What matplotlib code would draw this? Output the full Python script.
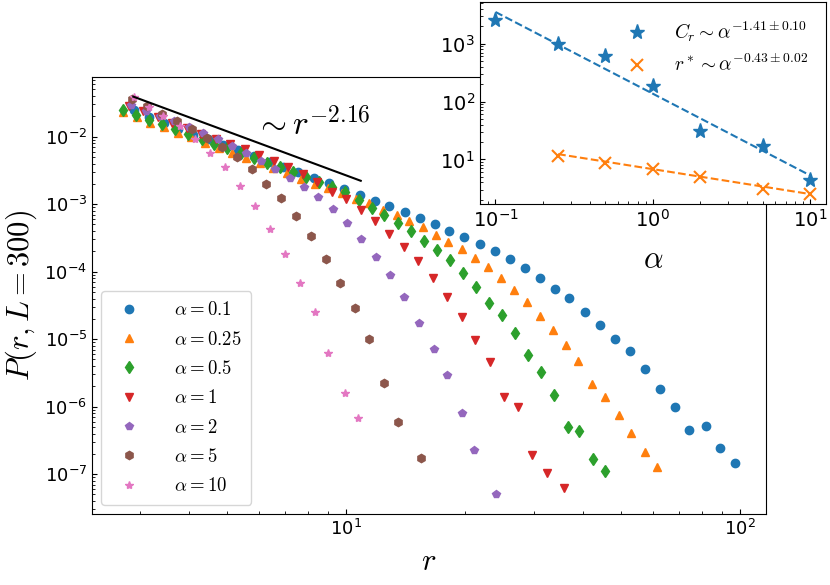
import numpy as np
import matplotlib
matplotlib.use("Agg")
import matplotlib.pyplot as plt

plt.rcParams['mathtext.fontset'] = 'cm'
plt.rcParams['axes.unicode_minus'] = False

# P(r, L=300) for each alpha
blue_r = [2.89, 3.17, 3.45, 3.75, 4.10, 4.47, 4.88, 5.33, 5.84, 6.38, 6.93, 7.57, 8.30, 9.06,
          9.88, 10.85, 11.85, 12.88, 14.12, 15.41, 16.80, 18.29, 19.96, 21.88, 23.89, 26.08,
          28.47, 31.08, 33.93, 36.88, 40.35, 44.13, 48.16, 52.58, 57.41, 62.66, 68.52, 74.08,
          81.84, 88.96, 97.1]
blue_p = [2.49e-2, 1.98e-2, 1.58e-2, 1.29e-2, 1.06e-2, 9.15e-3, 7.53e-3, 6.35e-3, 5.18e-3,
          4.26e-3, 3.59e-3, 3.03e-3, 2.42e-3, 2.04e-3, 1.66e-3, 1.37e-3, 1.13e-3, 9.40e-4,
          7.74e-4, 6.31e-4, 5.09e-4, 4.05e-4, 3.30e-4, 2.55e-4, 2.03e-4, 1.56e-4, 1.13e-4,
          8.15e-5, 5.60e-5, 4.04e-5, 2.55e-5, 1.61e-5, 1.02e-5, 6.68e-6, 3.58e-6, 1.85e-6,
          9.90e-7, 4.52e-7, 5.23e-7, 2.42e-7, 1.47e-7]

orange_r = [2.71, 2.94, 3.18, 3.45, 3.74, 4.05, 4.38, 4.75, 5.14, 5.57, 6.04, 6.54, 7.09, 7.68,
            8.32, 9.01, 9.76, 10.58, 11.46, 12.44, 13.45, 14.48, 15.65, 16.92, 18.18, 19.73,
            21.26, 22.89, 24.70, 26.70, 28.74, 31.07, 33.59, 36.18, 38.87, 42.11, 45.44, 49.21,
            52.80, 57.30, 61.55]
orange_p = [2.32e-2, 1.97e-2, 1.62e-2, 1.39e-2, 1.15e-2, 9.8e-3, 8.1e-3, 6.9e-3, 5.8e-3, 4.8e-3,
            4.1e-3, 3.4e-3, 2.9e-3, 2.4e-3, 2.0e-3, 1.72e-3, 1.45e-3, 1.21e-3, 1.05e-3, 8.20e-4,
            6.92e-4, 5.64e-4, 4.64e-4, 3.50e-4, 2.78e-4, 2.15e-4, 1.61e-4, 1.16e-4, 8.15e-5,
            5.30e-5, 3.60e-5, 2.23e-5, 1.37e-5, 8.13e-6, 4.75e-6, 2.15e-6, 1.38e-6, 7.61e-7,
            4.12e-7, 2.15e-7, 1.29e-7]

green_r = [2.72, 2.93, 3.17, 3.42, 3.69, 3.98, 4.30, 4.63, 5.00, 5.40, 5.83, 6.29, 6.79, 7.33,
           7.91, 8.54, 9.21, 9.94, 10.79, 11.62, 12.51, 13.57, 14.62, 15.80, 16.99, 18.37,
           19.85, 21.38, 23.10, 24.88, 26.90, 29.02, 31.20, 33.73, 36.60, 39.09, 42.43, 45.36]
green_p = [2.49e-2, 2.11e-2, 1.79e-2, 1.52e-2, 1.29e-2, 1.10e-2, 9.3e-3, 7.9e-3, 6.7e-3, 5.7e-3,
           4.85e-3, 4.1e-3, 3.5e-3, 2.97e-3, 2.52e-3, 2.14e-3, 1.82e-3, 1.53e-3, 1.15e-3,
           8.87e-4, 6.92e-4, 5.32e-4, 4.01e-4, 2.85e-4, 2.10e-4, 1.49e-4, 9.66e-5, 6.00e-5,
           3.40e-5, 2.26e-5, 1.25e-5, 5.83e-6, 3.27e-6, 1.49e-6, 5.06e-7, 4.41e-7, 1.66e-7,
           1.11e-7]

red_r = [2.81, 3.06, 3.33, 3.62, 3.94, 4.29, 4.67, 5.08, 5.53, 6.02, 6.56, 7.13, 7.77, 8.45,
         9.20, 10.0, 10.89, 11.85, 12.88, 14.03, 15.26, 16.60, 18.08, 19.66, 21.29, 23.20,
         25.18, 27.33, 29.72, 32.44, 35.82]
red_p = [2.85e-2, 2.36e-2, 1.96e-2, 1.62e-2, 1.35e-2, 1.11e-2, 9.24e-3, 7.80e-3, 6.46e-3,
         5.36e-3, 4.37e-3, 3.50e-3, 2.80e-3, 2.13e-3, 1.53e-3, 1.18e-3, 8.20e-4, 5.64e-4,
         3.62e-4, 2.35e-4, 1.44e-4, 8.15e-5, 4.26e-5, 2.15e-5, 9.63e-6, 4.64e-6, 1.39e-6,
         9.90e-7, 1.91e-7, 1.05e-7, 6.18e-8]

purple_r = [2.85, 3.10, 3.37, 3.67, 3.99, 4.34, 4.72, 5.13, 5.59, 6.07, 6.61, 7.19, 7.82, 8.51,
            9.25, 10.04, 10.92, 11.90, 12.93, 14.06, 15.30, 16.70, 18.02, 19.70, 21.13, 24.07]
purple_p = [2.95e-2, 2.44e-2, 2.03e-2, 1.71e-2, 1.39e-2, 1.14e-2, 9.09e-3, 7.28e-3, 5.74e-3,
            4.37e-3, 3.32e-3, 2.44e-3, 1.80e-3, 1.28e-3, 8.40e-4, 5.21e-4, 3.08e-4, 1.65e-4,
            8.85e-5, 4.18e-5, 1.74e-5, 7.16e-6, 2.98e-6, 7.98e-7, 2.31e-7, 5.09e-8]

brown_r = [2.86, 3.12, 3.41, 3.72, 4.06, 4.43, 4.84, 5.28, 5.76, 6.27, 6.84, 7.47, 8.15, 8.88,
           9.66, 10.54, 11.46, 12.49, 13.53, 15.47]
brown_p = [3.56e-2, 2.85e-2, 2.17e-2, 1.73e-2, 1.29e-2, 9.47e-3, 6.97e-3, 4.95e-3, 3.29e-3,
           1.99e-3, 1.22e-3, 6.76e-4, 3.41e-4, 1.54e-4, 6.81e-5, 2.87e-5, 1.01e-5, 2.27e-6,
           5.93e-7, 1.74e-7]

pink_r = [2.89, 3.17, 3.44, 3.78, 4.14, 4.52, 4.93, 5.38, 5.87, 6.41, 7.00, 7.64, 8.34, 9.02,
          9.94, 10.75]
pink_p = [3.84e-2, 2.78e-2, 2.03e-2, 1.44e-2, 9.15e-3, 5.79e-3, 3.50e-3, 1.89e-3, 9.47e-4,
          4.25e-4, 1.85e-4, 6.87e-5, 2.50e-5, 6.18e-6, 1.58e-6, 6.87e-7]

alpha_labels = ['0.1', '0.25', '0.5', '1', '2', '5', '10']

# guide line ~ r^-2.16
guide_r = [2.885, 10.9]
guide_p0 = 0.0392
guide_exp = -2.16

# inset: C_r and r* against alpha
alpha_c = [0.1, 0.25, 0.5, 1, 2, 5, 10]
c_r = [2590, 972, 604, 186, 30.8, 17.1, 4.39]
alpha_s = [0.25, 0.5, 1, 2, 5, 10]
r_star = [11.4, 8.74, 6.80, 4.90, 3.08, 2.49]
fit_c = (136.5, -1.41)
fit_s = (6.8, -0.43)

series = [(blue_r, blue_p, 'o', 6), (orange_r, orange_p, '^', 6), (green_r, green_p, 'd', 6),
          (red_r, red_p, 'v', 6), (purple_r, purple_p, 'p', 6), (brown_r, brown_p, 'h', 6),
          (pink_r, pink_p, '*', 6)]

fig = plt.figure(figsize=(8.3, 5.85), dpi=100)
ax = fig.add_axes([0.1108, 0.1214, 0.8121, 0.747])

for (rr, pp, m, ms), lab in zip(series, alpha_labels):
    ax.plot(rr, pp, linestyle='none', marker=m, markersize=ms, label=r'$\alpha=' + lab + '$')

gr = np.array(guide_r)
ax.plot(gr, guide_p0 * (gr / gr[0]) ** guide_exp, color='black', lw=1.5)
ax.text(5.87, 0.0104, r'$\sim r^{-2.16}$', fontsize=24, va='baseline')

ax.set_xscale('log')
ax.set_yscale('log')
ax.set_xlim(2.266, 116.4)
ax.set_ylim(2.57e-8, 7.66e-2)
ax.tick_params(which='both', direction='in', labelsize=13)
ax.set_xlabel(r'$r$', fontsize=22, labelpad=6)
ax.set_ylabel(r'$P(r,L=300)$', fontsize=22, labelpad=4)
ax.legend(loc='lower left', fontsize=13.5, labelspacing=0.55, handletextpad=1.4,
          borderpad=0.5)

# inset
ins = fig.add_axes([0.578, 0.651, 0.417, 0.345])
ac = np.array([alpha_c[0], alpha_c[-1]])
ins.plot(ac, fit_c[0] * ac ** fit_c[1], '--', color='tab:blue', lw=1.5)
ins.plot(alpha_c, c_r, linestyle='none', marker='*', markersize=11, color='tab:blue',
         label=r'$C_r\sim\alpha^{-1.41\pm0.10}$')
as_ = np.array([alpha_s[0], alpha_s[-1]])
ins.plot(as_, fit_s[0] * as_ ** fit_s[1], '--', color='tab:orange', lw=1.5)
ins.plot(alpha_s, r_star, linestyle='none', marker='x', markersize=9, mew=1.5,
         color='tab:orange', label=r'$r^*\sim\alpha^{-0.43\pm0.02}$')
ins.set_xscale('log')
ins.set_yscale('log')
ins.set_xlim(0.0794, 12.6)
ins.set_ylim(1.69, 5150)
ins.tick_params(which='both', direction='in', labelsize=14)
ins.set_xlabel(r'$\alpha$', fontsize=22, labelpad=10)
ins.legend(loc='upper right', frameon=False, fontsize=14, handletextpad=0.9)

fig.savefig('out.png', dpi=100)
